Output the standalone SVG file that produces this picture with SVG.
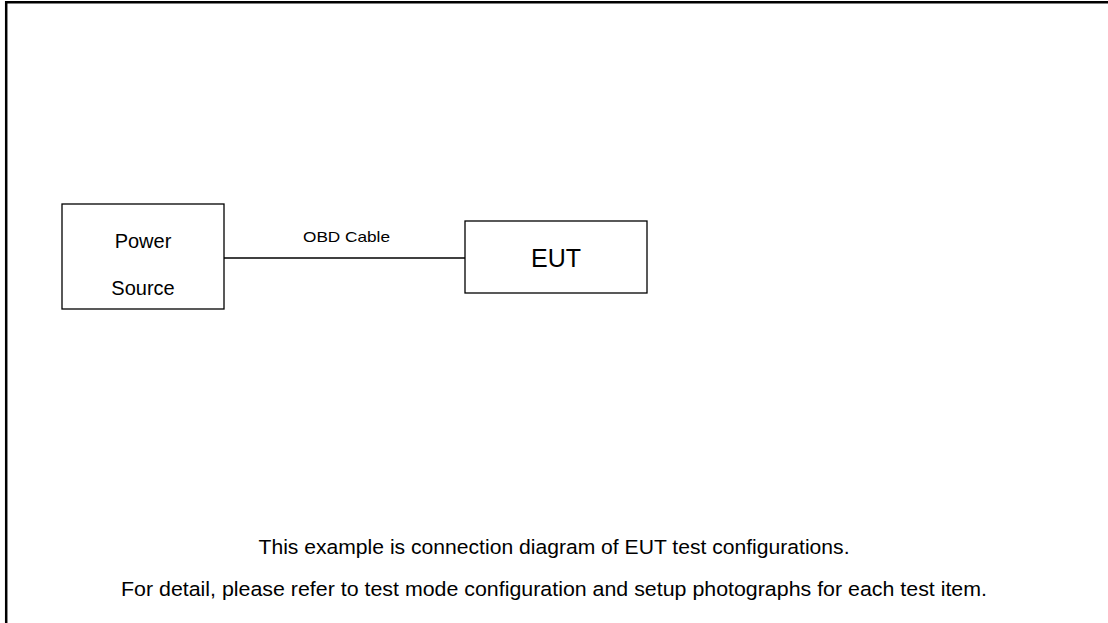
<svg xmlns="http://www.w3.org/2000/svg" width="1108" height="623" viewBox="0 0 1108 623">
  <style>
    .box { fill: #fff; stroke: #000; stroke-width: 1.3; }
    .wire { stroke: #000; stroke-width: 1.5; fill: none; }
    .lbl { font-family: "Liberation Sans", Arial, sans-serif; fill: #000; }
  </style>
  <rect width="1108" height="623" fill="#fff"/>
  <!-- page frame: left and top edges -->
  <path d="M6.2,623 V2.2 H1108" fill="none" stroke="#000" stroke-width="2.5"/>

  <g id="connectors">
    <line class="wire" x1="224" y1="258" x2="465" y2="258"/>
    <text class="lbl" x="303" y="242" font-size="14.5" textLength="87" lengthAdjust="spacingAndGlyphs">OBD Cable</text>
  </g>

  <g id="power-source">
    <rect class="box" x="62" y="204" width="162" height="105"/>
    <text class="lbl" x="143" y="248" font-size="20" text-anchor="middle">Power</text>
    <text class="lbl" x="143" y="295" font-size="20" text-anchor="middle">Source</text>
  </g>

  <g id="eut">
    <rect class="box" x="465" y="221" width="182" height="72"/>
    <text class="lbl" x="556" y="267" font-size="25" text-anchor="middle">EUT</text>
  </g>

  <g id="notes">
    <text class="lbl" x="554" y="554" font-size="20.5" text-anchor="middle" textLength="591" lengthAdjust="spacingAndGlyphs">This example is connection diagram of EUT test configurations.</text>
    <text class="lbl" x="554" y="596" font-size="20.5" text-anchor="middle" textLength="866" lengthAdjust="spacingAndGlyphs">For detail, please refer to test mode configuration and setup photographs for each test item.</text>
  </g>
</svg>
